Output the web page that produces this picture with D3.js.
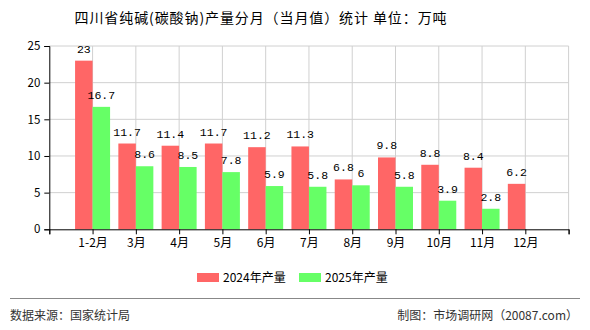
<!DOCTYPE html>
<html><head><meta charset="utf-8">
<script src="https://cdn.jsdelivr.net/npm/d3@7/dist/d3.min.js"></script>
<style>body{margin:0;background:#fff}svg{display:block}</style>
</head><body><svg id="c" width="590" height="330"></svg>
<script>
const categories = ["1-2月","3月","4月","5月","6月","7月","8月","9月","10月","11月","12月"];
const values2024 = [23, 11.7, 11.4, 11.7, 11.2, 11.3, 6.8, 9.8, 8.8, 8.4, 6.2];
const values2025 = [16.7, 8.6, 8.5, 7.8, 5.9, 5.8, 6, 5.8, 3.9, 2.8, null];
const seriesNames = ["2024年产量","2025年产量"];
const colors = ["#ff6666","#66ff66"];
const yTicks = [0,5,10,15,20,25];
const title = "四川省纯碱(碳酸钠)产量分月（当月值）统计 单位：万吨";

const svg = d3.select("#c");
const L = 49.3, R = 568.6, T = 46, B = 229.3;
const x = d3.scaleLinear().domain([0, categories.length + 1]).range([L, R]);
const y = d3.scaleLinear().domain([0, 25]).range([B, T]);
const bw = 17.5;
const font = "'Noto Sans CJK SC', sans-serif";

svg.append("text").attr("x", 261).attr("y", 23).attr("text-anchor","middle")
  .attr("font-family", font).attr("font-size", 14).attr("letter-spacing", 0.9)
  .attr("fill","#000").text(title);

// grid
const g = svg.append("g");
g.selectAll("line.h").data(yTicks.filter(d=>d>0)).join("line")
  .attr("x1", L).attr("x2", R).attr("y1", d=>y(d)).attr("y2", d=>y(d))
  .attr("stroke","#d0d0d0").attr("stroke-width",1);
g.selectAll("line.v").data(d3.range(1, categories.length + 2)).join("line")
  .attr("x1", d=>x(d)).attr("x2", d=>x(d)).attr("y1", T).attr("y2", B)
  .attr("stroke","#d0d0d0").attr("stroke-width",1);

// bars
const series = [values2024, values2025];
series.forEach((vals, si) => {
  const idx = vals.map((v,i)=>({v,i})).filter(d=>d.v!=null);
  svg.append("g").selectAll("rect").data(idx).join("rect")
    .attr("x", d => si===0 ? x(d.i+1)-bw : x(d.i+1))
    .attr("width", bw)
    .attr("y", d => y(d.v)).attr("height", d => B - y(d.v))
    .attr("fill", colors[si]);
  svg.append("g").selectAll("text").data(idx).join("text")
    .attr("x", d => (si===0 ? x(d.i+1)-bw/2 : x(d.i+1)+bw/2))
    .attr("y", d => y(d.v) - 8)
    .attr("text-anchor","middle")
    .attr("font-family","'Liberation Mono', monospace").attr("font-size", 11.5)
    .attr("fill","#000").text(d => d.v);
});

// axes
const yAxis = d3.axisLeft(y).tickValues(yTicks).tickSize(5).tickPadding(4);
const ya = svg.append("g").attr("transform",`translate(${L},0)`).call(yAxis);
ya.select(".domain").attr("stroke","#000");
ya.selectAll("text").attr("font-family", font).attr("font-size", 11.5).attr("fill","#000");

const xAxis = d3.axisBottom(x).tickValues(d3.range(0, categories.length + 2))
  .tickSize(5).tickPadding(4).tickFormat(d => categories[d-1] || "");
const xa = svg.append("g").attr("transform",`translate(0,${B})`).call(xAxis);
xa.select(".domain").attr("stroke","#000");
xa.selectAll("text").attr("font-family", font).attr("font-size", 12).attr("fill","#000");

// legend
const lg = svg.append("g");
const lx = [197, 299];
seriesNames.forEach((n,i)=>{
  lg.append("rect").attr("x", lx[i]).attr("y", 273).attr("width", 22).attr("height", 9).attr("fill", colors[i]);
  lg.append("text").attr("x", lx[i]+26).attr("y", 281.5).attr("font-family", font)
    .attr("font-size", 12).attr("fill","#000").text(n);
});

svg.append("line").attr("x1",10).attr("x2",580).attr("y1",298.5).attr("y2",298.5)
  .attr("stroke","#888").attr("stroke-width",1);
svg.append("text").attr("x",10).attr("y",320).attr("font-family",font).attr("font-size",12)
  .attr("fill","#333").text("数据来源：国家统计局");
svg.append("text").attr("x",578).attr("y",320).attr("text-anchor","end").attr("font-family",font).attr("font-size",12)
  .attr("fill","#333").text("制图：市场调研网（20087.com）");
</script></body></html>
